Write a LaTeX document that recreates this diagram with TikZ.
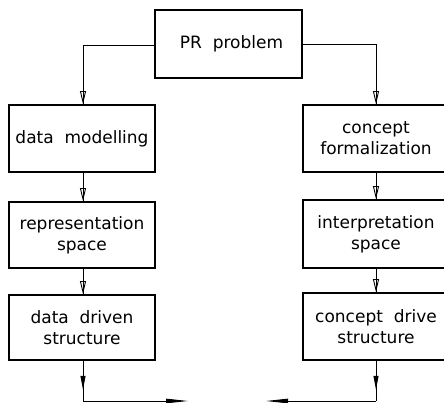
\documentclass[tikz,border=0pt]{standalone}
\usepackage{fontspec}
\setmainfont{DejaVu Sans}
\usetikzlibrary{arrows.meta,decorations.markings}
\tikzset{
  stage/.style={draw, line width=1.8pt, minimum width=146pt, inner sep=2pt,
    align=center, font=\fontsize{17}{21}\selectfont},
  link/.style={line width=0.9pt},
  downtip/.style={postaction={decorate}, decoration={markings,
    mark=at position #1 with {\arrow{Triangle[open, length=13pt, width=6pt]}}}},
  soliddown/.style={postaction={decorate}, decoration={markings,
    mark=at position #1 with {\arrow{Triangle[length=14pt, width=5pt]}}}},
  endwedge/.style={-{Triangle[length=22pt, width=4.5pt]}}
}
\begin{document}
\begin{tikzpicture}[x=1pt,y=1pt]
\clip (0,0) rectangle (444,403);
\fill[white] (0,0) rectangle (444,403);

% top problem box
\node[stage, minimum width=147pt, minimum height=68pt] (pr) at (228.5,359) {\hspace{6pt}PR\ \ problem};

% left column: data side
\node[stage, minimum height=67pt] (dm) at (82,264.5) {data\ \ modelling};
\node[stage, minimum height=66pt] (rs) at (82,168) {representation\\space};
\node[stage, minimum height=65pt] (dd) at (82,75.5) {data\ \ driven\\structure};

% right column: concept side
\node[stage, minimum height=67pt] (cf) at (376,264.5) {concept\\formalization};
\node[stage, minimum height=68pt] (is) at (376,169) {interpretation\\space};
\node[stage, minimum height=67pt] (cs) at (376,76.5) {concept\ \ drive\\structure};

% branching from the problem box
\coordinate (tl) at (83,358);
\coordinate (tr) at (376,359);
\draw[link] (pr.west |- tl) -- (tl);
\draw[link, downtip=1] (tl) -- (dm.north -| tl);
\draw[link] (pr.east |- tr) -- (tr);
\draw[link, downtip=1] (tr) -- (cf.north);

% steps down each column
\draw[link, downtip=1] (dm.south -| tl) -- (rs.north -| tl);
\draw[link, downtip=1] (rs.south -| tl) -- (dd.north -| tl);
\draw[link, downtip=1] (cf.south) -- (is.north);
\draw[link, downtip=1] (is.south) -- (cs.north);

% merging lines at the bottom
\coordinate (bl) at (83,2);
\coordinate (br) at (376,2);
\coordinate (ml) at (188,2);
\coordinate (mr) at (266,2);
\draw[link, soliddown=0.72] (dd.south -| bl) -- (bl);
\draw[link, endwedge] (bl) -- (ml);
\draw[link, soliddown=0.72] (cs.south) -- (br);
\draw[link, endwedge] (br) -- (mr);
\end{tikzpicture}
\end{document}
